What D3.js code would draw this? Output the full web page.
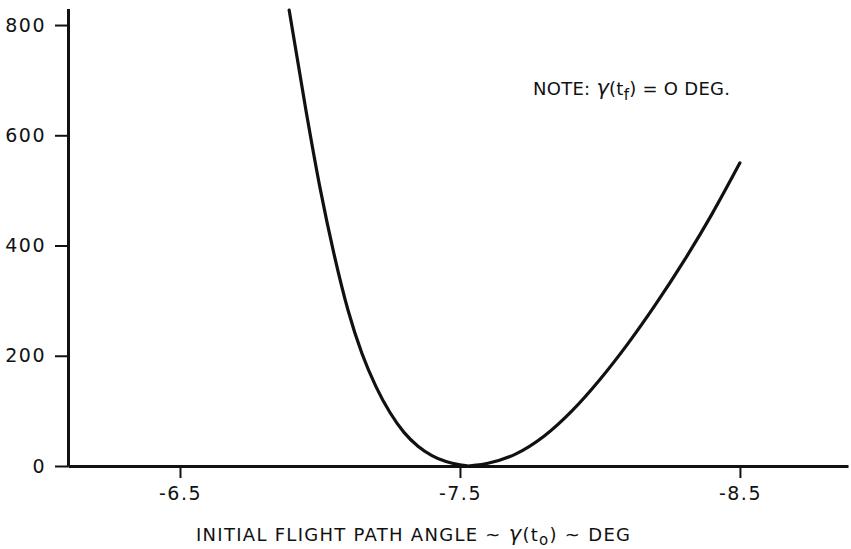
<!DOCTYPE html>
<html lang="en">
<head>
	<meta charset="UTF-8"/>
	<title>Initial flight path angle</title>
	<script src="https://d3js.org/d3.v7.min.js"></script>
	<style>
		body {
			margin: 0;
			background: #fff;
		}
		svg text {
			font-family: "DejaVu Sans", sans-serif;
			fill: #111;
		}
	</style>
</head>
<body>
	<script>
		// curve: initial flight path angle (deg) vs value
		var angles = [-6.89,-6.95,-7.0,-7.05,-7.1,-7.15,-7.2,-7.25,-7.3,-7.35,-7.4,-7.45,-7.5,-7.53,
			-7.55,-7.6,-7.7,-7.8,-7.9,-8.0,-8.1,-8.2,-8.3,-8.4,-8.5];
		var values = [827,645,505,385,283,204,144,97,61,36,19,8,2,0,
			1,5,22,54,100,157,222,294,372,457,550];

		var yTicks = [0,200,400,600,800];
		var xTicks = [-6.5,-7.5,-8.5];
		var xTickLabels = ["-6.5","-7.5","-8.5"];

		var w = 851;
		var h = 549;

		var xScale = d3.scaleLinear()
						.domain([-6.1,-8.886])
						.range([68,848]);

		var yScale = d3.scaleLinear()
						.domain([0,830])
						.range([466,8.5]);

		var svg = d3.select("body").append("svg").attr("width",w).attr("height",h);

		// y axis
		var yAxis = d3.axisLeft(yScale)
						.tickValues(yTicks)
						.tickSize(13)
						.tickSizeOuter(0)
						.tickPadding(9)
						.tickFormat(function(d){ return d; });

		var gy = svg.append("g")
			.attr("transform","translate(" + xScale(-6.1) + ",0)")
			.call(yAxis);

		// x axis
		var xAxis = d3.axisBottom(xScale)
						.tickValues(xTicks)
						.tickSize(12)
						.tickSizeOuter(0)
						.tickPadding(9)
						.tickFormat(function(d,i){ return xTickLabels[i]; });

		var gx = svg.append("g")
			.attr("transform","translate(0," + yScale(0) + ")")
			.call(xAxis);

		[gx, gy].forEach(function(g){
			g.select(".domain").attr("stroke","#111").attr("stroke-width",3);
			g.selectAll(".tick line").attr("stroke","#111").attr("stroke-width",2);
			g.selectAll(".tick text")
				.style("font-size","19px")
				.style("letter-spacing","1.5px")
				.attr("fill","#111");
		});

		// the curve
		var line = d3.line()
			.x(function(d,i){ return xScale(angles[i]); })
			.y(function(d){ return yScale(d); })
			.curve(d3.curveMonotoneX);

		svg.append("path")
			.datum(values)
			.attr("d",line)
			.attr("fill","none")
			.attr("stroke","#111")
			.attr("stroke-width",3.2)
			.attr("stroke-linecap","round");

		// note
		var note = svg.append("text")
			.attr("x",533)
			.attr("y",95)
			.style("font-size","18px")
			.attr("textLength",197)
			.attr("lengthAdjust","spacing");
		note.append("tspan").text("NOTE: ");
		note.append("tspan").style("font-style","italic").style("font-size","21px").text("γ");
		note.append("tspan").text("(t");
		note.append("tspan").attr("dy",5).style("font-size","15px").text("f");
		note.append("tspan").attr("dy",-5).text(") = O DEG.");

		// x axis title
		var title = svg.append("text")
			.attr("x",196)
			.attr("y",541)
			.style("font-size","18px")
			.attr("textLength",434)
			.attr("lengthAdjust","spacing");
		title.append("tspan").text("INITIAL FLIGHT PATH ANGLE ~ ");
		title.append("tspan").style("font-style","italic").style("font-size","21px").text("γ");
		title.append("tspan").text("(t");
		title.append("tspan").attr("dy",4).style("font-size","15px").text("o");
		title.append("tspan").attr("dy",-4).text(") ~ DEG");
	</script>
</body>
</html>
